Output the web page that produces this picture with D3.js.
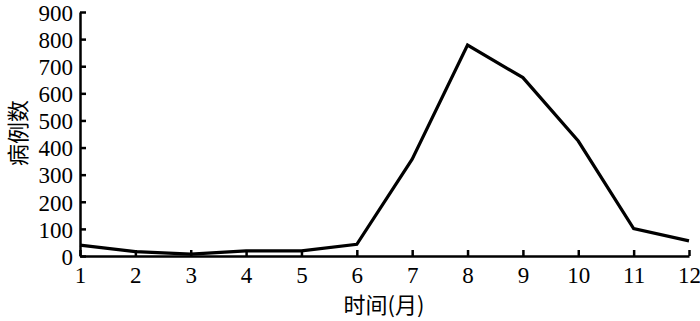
<!DOCTYPE html>
<html>
<head>
<meta charset="utf-8">
<script src="https://cdn.jsdelivr.net/npm/d3@7"></script>
<style>
  body { margin: 0; background: #fff; }
  svg { display: block; }
</style>
</head>
<body>
<svg id="chart" width="700" height="321"></svg>
<script>
const months = [1, 2, 3, 4, 5, 6, 7, 8, 9, 10, 11, 12];
const cases = [40, 16, 7, 19, 19, 43, 357, 778, 658, 424, 101, 56];
const yTicks = [0, 100, 200, 300, 400, 500, 600, 700, 800, 900];

const serif = '"Liberation Serif", "DejaVu Serif", serif';
const cjk = '"Noto Sans CJK SC", sans-serif';

const margin = { top: 12, right: 11, bottom: 65, left: 80 };
const svg = d3.select('#chart');
const width = 700 - margin.left - margin.right;
const height = 321 - margin.top - margin.bottom;

const g = svg.append('g')
    .attr('transform', `translate(${margin.left},${margin.top})`);

const x = d3.scaleLinear().domain([1, 12]).range([0, width]);
const y = d3.scaleLinear().domain([0, 900]).range([height, 0]);

// axes, ticks pointing inward
const xAxis = g.append('g')
    .attr('transform', `translate(0,${height})`)
    .call(d3.axisBottom(x).tickValues(months).tickSizeInner(-6).tickSizeOuter(0).tickFormat(d3.format('d')));

const yAxis = g.append('g')
    .call(d3.axisLeft(y).tickValues(yTicks).tickSizeInner(-6).tickSizeOuter(0));

[xAxis, yAxis].forEach(a => {
    a.attr('font-family', serif).attr('font-size', 23);
    a.selectAll('path, line').attr('stroke', '#000').attr('stroke-width', 2.5);
    a.selectAll('text').attr('fill', '#000');
});

xAxis.selectAll('.tick text').attr('y', 27).attr('dy', null);
yAxis.selectAll('.tick text').attr('x', -7).attr('dy', '0.36em');

const line = d3.line()
    .x((d, i) => x(months[i]))
    .y(d => y(d));

g.append('path')
    .datum(cases)
    .attr('fill', 'none')
    .attr('stroke', '#000')
    .attr('stroke-width', 3.2)
    .attr('stroke-linejoin', 'miter')
    .attr('d', line);

svg.append('text')
    .attr('font-family', cjk)
    .attr('font-size', 22)
    .attr('text-anchor', 'middle')
    .attr('dominant-baseline', 'central')
    .attr('transform', 'translate(16,133) rotate(-90)')
    .text('病例数');

svg.append('text')
    .attr('font-family', cjk)
    .attr('font-size', 22)
    .attr('text-anchor', 'middle')
    .attr('x', 384)
    .attr('y', 313)
    .text('时间(月)');
</script>
</body>
</html>
